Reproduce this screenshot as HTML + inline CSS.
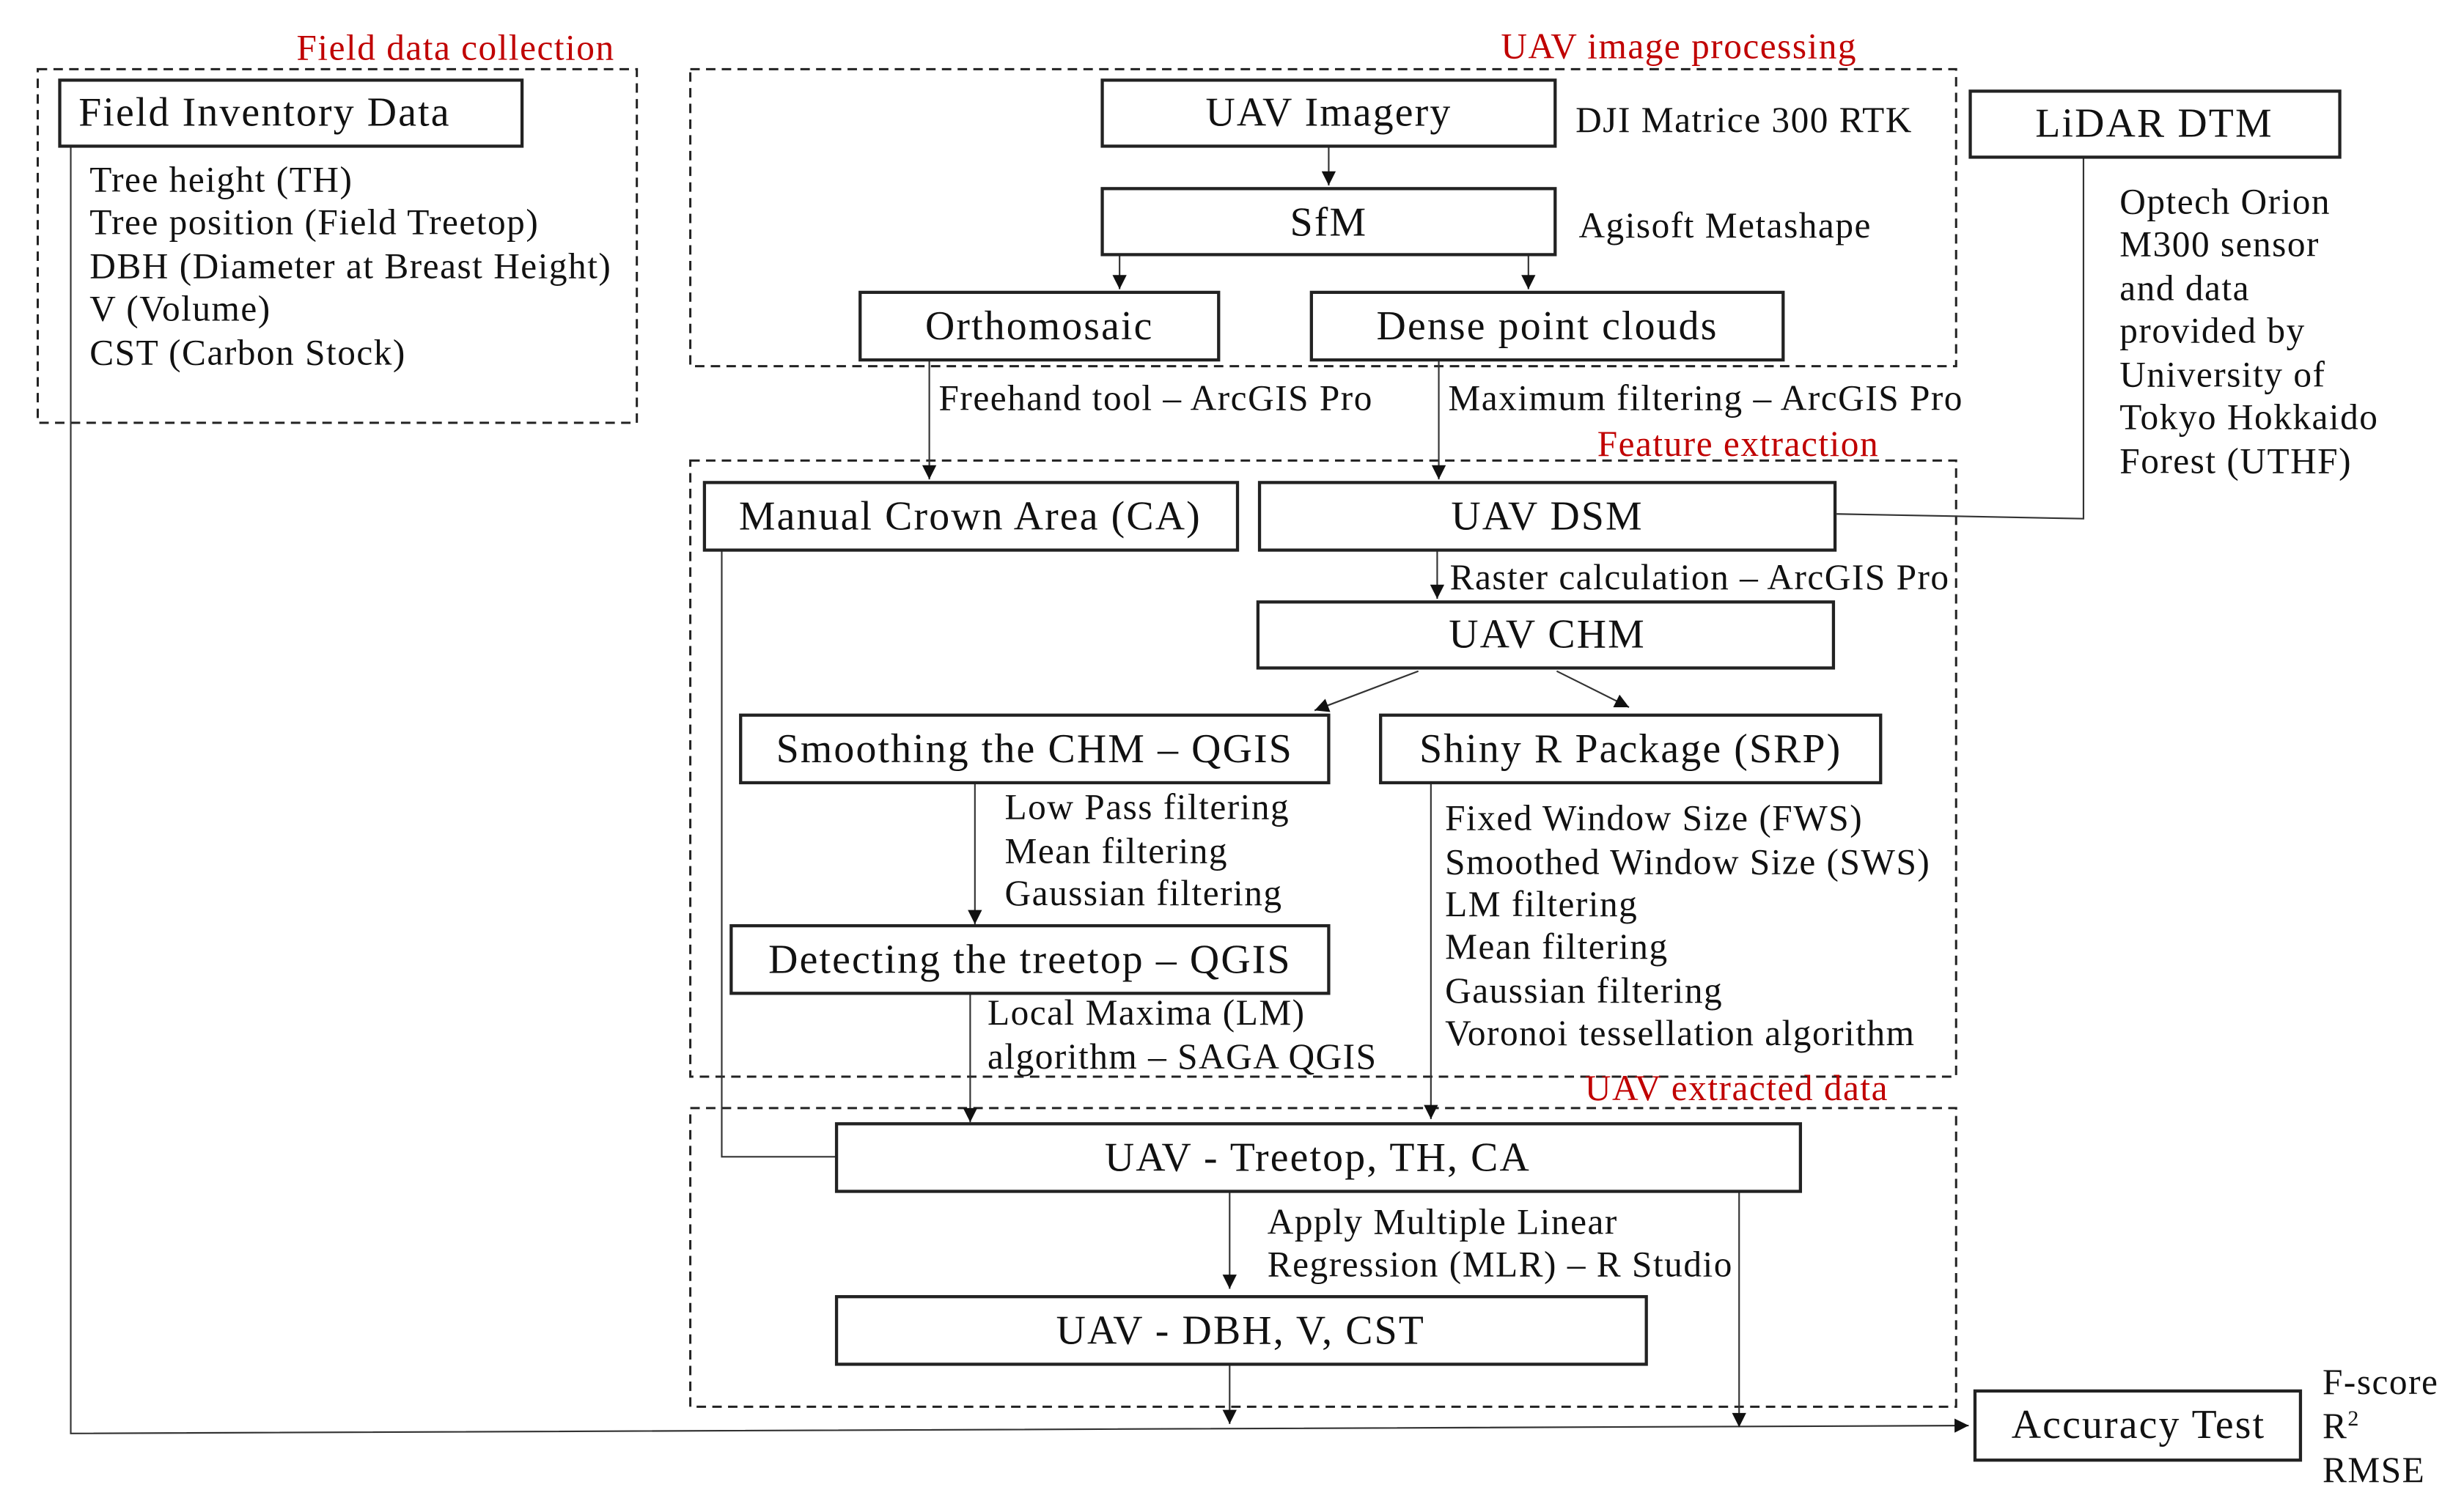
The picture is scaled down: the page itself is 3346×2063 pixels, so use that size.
<!DOCTYPE html>
<html><head><meta charset="utf-8"><style>
html,body{margin:0;padding:0;background:#fff;}
svg{display:block;}
text{font-family:"Liberation Serif",serif;fill:#111;}
.b{font-size:26px;letter-spacing:1px;}
.s{font-size:23px;letter-spacing:0.7px;}
.r{font-size:23px;letter-spacing:0.7px;fill:#c00000;}
.box{fill:#fff;stroke:#222;stroke-width:2;}
.d{fill:none;stroke:#222;stroke-width:1.4;stroke-dasharray:6,4;}
.l{fill:none;stroke:#333;stroke-width:1;}
</style></head><body>
<svg width="3346" height="2063" viewBox="0 0 1560 962" preserveAspectRatio="none" xmlns="http://www.w3.org/2000/svg">
<defs><marker id="a" viewBox="0 0 10 10" refX="10" refY="5" markerWidth="10" markerHeight="9" markerUnits="userSpaceOnUse" orient="auto"><path d="M0,0L10,5L0,10z" fill="#111"/></marker></defs>

<rect class="d" x="24" y="44" width="381" height="225"/>
<rect class="d" x="439" y="44" width="805" height="189"/>
<rect class="d" x="439" y="293" width="805" height="392"/>
<rect class="d" x="439" y="705" width="805" height="190"/>

<text class="r" x="391" y="38" text-anchor="end">Field data collection</text>
<text class="r" x="1181" y="37" text-anchor="end">UAV image processing</text>
<text class="r" x="1195" y="290" text-anchor="end">Feature extraction</text>
<text class="r" x="1201" y="700" text-anchor="end">UAV extracted data</text>

<path class="l" d="M45,93 V912 L1252,907" marker-end="url(#a)"/>
<path class="l" d="M845,93 V118" marker-end="url(#a)"/>
<path class="l" d="M712,162 V184" marker-end="url(#a)"/>
<path class="l" d="M972,162 V184" marker-end="url(#a)"/>
<path class="l" d="M1325,100 V330 L1168,327"/>
<path class="l" d="M591,229 V305" marker-end="url(#a)"/>
<path class="l" d="M915,229 V305" marker-end="url(#a)"/>
<path class="l" d="M914,350 V381" marker-end="url(#a)"/>
<path class="l" d="M902,427 L836,452" marker-end="url(#a)"/>
<path class="l" d="M990,427 L1036,450" marker-end="url(#a)"/>
<path class="l" d="M620,498 V588" marker-end="url(#a)"/>
<path class="l" d="M617,632 V714" marker-end="url(#a)"/>
<path class="l" d="M910,498 V712" marker-end="url(#a)"/>
<path class="l" d="M459,350 V736 H532"/>
<path class="l" d="M782,758 V820" marker-end="url(#a)"/>
<path class="l" d="M782,868 V906" marker-end="url(#a)"/>
<path class="l" d="M1106,758 V908" marker-end="url(#a)"/>

<rect class="box" x="38" y="51" width="294" height="42"/>
<text class="b" x="50" y="80">Field Inventory Data</text>
<text class="s" x="57" y="122">Tree height (TH)</text>
<text class="s" x="57" y="149">Tree position (Field Treetop)</text>
<text class="s" x="57" y="177">DBH (Diameter at Breast Height)</text>
<text class="s" x="57" y="204">V (Volume)</text>
<text class="s" x="57" y="232">CST (Carbon Stock)</text>

<rect class="box" x="701" y="51" width="288" height="42"/>
<text class="b" x="845" y="80" text-anchor="middle">UAV Imagery</text>
<text class="s" x="1002" y="84">DJI Matrice 300 RTK</text>
<rect class="box" x="701" y="120" width="288" height="42"/>
<text class="b" x="845" y="150" text-anchor="middle">SfM</text>
<text class="s" x="1004" y="151">Agisoft Metashape</text>
<rect class="box" x="547" y="186" width="228" height="43"/>
<text class="b" x="661" y="216" text-anchor="middle">Orthomosaic</text>
<rect class="box" x="834" y="186" width="300" height="43"/>
<text class="b" x="984" y="216" text-anchor="middle">Dense point clouds</text>

<rect class="box" x="1253" y="58" width="235" height="42"/>
<text class="b" x="1370" y="87" text-anchor="middle">LiDAR DTM</text>
<text class="s" x="1348" y="136">Optech Orion</text>
<text class="s" x="1348" y="163">M300 sensor</text>
<text class="s" x="1348" y="191">and data</text>
<text class="s" x="1348" y="218">provided by</text>
<text class="s" x="1348" y="246">University of</text>
<text class="s" x="1348" y="273">Tokyo Hokkaido</text>
<text class="s" x="1348" y="301">Forest (UTHF)</text>

<text class="s" x="597" y="261">Freehand tool – ArcGIS Pro</text>
<text class="s" x="921" y="261">Maximum filtering – ArcGIS Pro</text>

<rect class="box" x="448" y="307" width="339" height="43"/>
<text class="b" x="617" y="337" text-anchor="middle">Manual Crown Area (CA)</text>
<rect class="box" x="801" y="307" width="366" height="43"/>
<text class="b" x="984" y="337" text-anchor="middle">UAV DSM</text>
<text class="s" x="922" y="375">Raster calculation – ArcGIS Pro</text>
<rect class="box" x="800" y="383" width="366" height="42"/>
<text class="b" x="984" y="412" text-anchor="middle">UAV CHM</text>

<rect class="box" x="471" y="455" width="374" height="43"/>
<text class="b" x="658" y="485" text-anchor="middle">Smoothing the CHM – QGIS</text>
<rect class="box" x="878" y="455" width="318" height="43"/>
<text class="b" x="1037" y="485" text-anchor="middle">Shiny R  Package (SRP)</text>

<text class="s" x="639" y="521">Low Pass filtering</text>
<text class="s" x="639" y="549">Mean filtering</text>
<text class="s" x="639" y="576">Gaussian filtering</text>

<text class="s" x="919" y="528">Fixed Window Size (FWS)</text>
<text class="s" x="919" y="556">Smoothed Window Size (SWS)</text>
<text class="s" x="919" y="583">LM filtering</text>
<text class="s" x="919" y="610">Mean filtering</text>
<text class="s" x="919" y="638">Gaussian filtering</text>
<text class="s" x="919" y="665">Voronoi tessellation algorithm</text>

<rect class="box" x="465" y="589" width="380" height="43"/>
<text class="b" x="655" y="619" text-anchor="middle">Detecting the treetop – QGIS</text>
<text class="s" x="628" y="652">Local Maxima (LM)</text>
<text class="s" x="628" y="680">algorithm – SAGA QGIS</text>

<rect class="box" x="532" y="715" width="613" height="43"/>
<text class="b" x="838" y="745" text-anchor="middle">UAV - Treetop, TH, CA</text>
<text class="s" x="806" y="785">Apply Multiple Linear</text>
<text class="s" x="806" y="812">Regression (MLR) – R Studio</text>
<rect class="box" x="532" y="825" width="515" height="43"/>
<text class="b" x="789" y="855" text-anchor="middle">UAV - DBH, V, CST</text>

<rect class="box" x="1256" y="885" width="207" height="44"/>
<text class="b" x="1360" y="915" text-anchor="middle">Accuracy Test</text>
<text class="s" x="1477" y="887">F-score</text>
<text class="s" x="1477" y="915">R<tspan font-size="14" dy="-8">2</tspan></text>
<text class="s" x="1477" y="943">RMSE</text>
</svg>
</body></html>
